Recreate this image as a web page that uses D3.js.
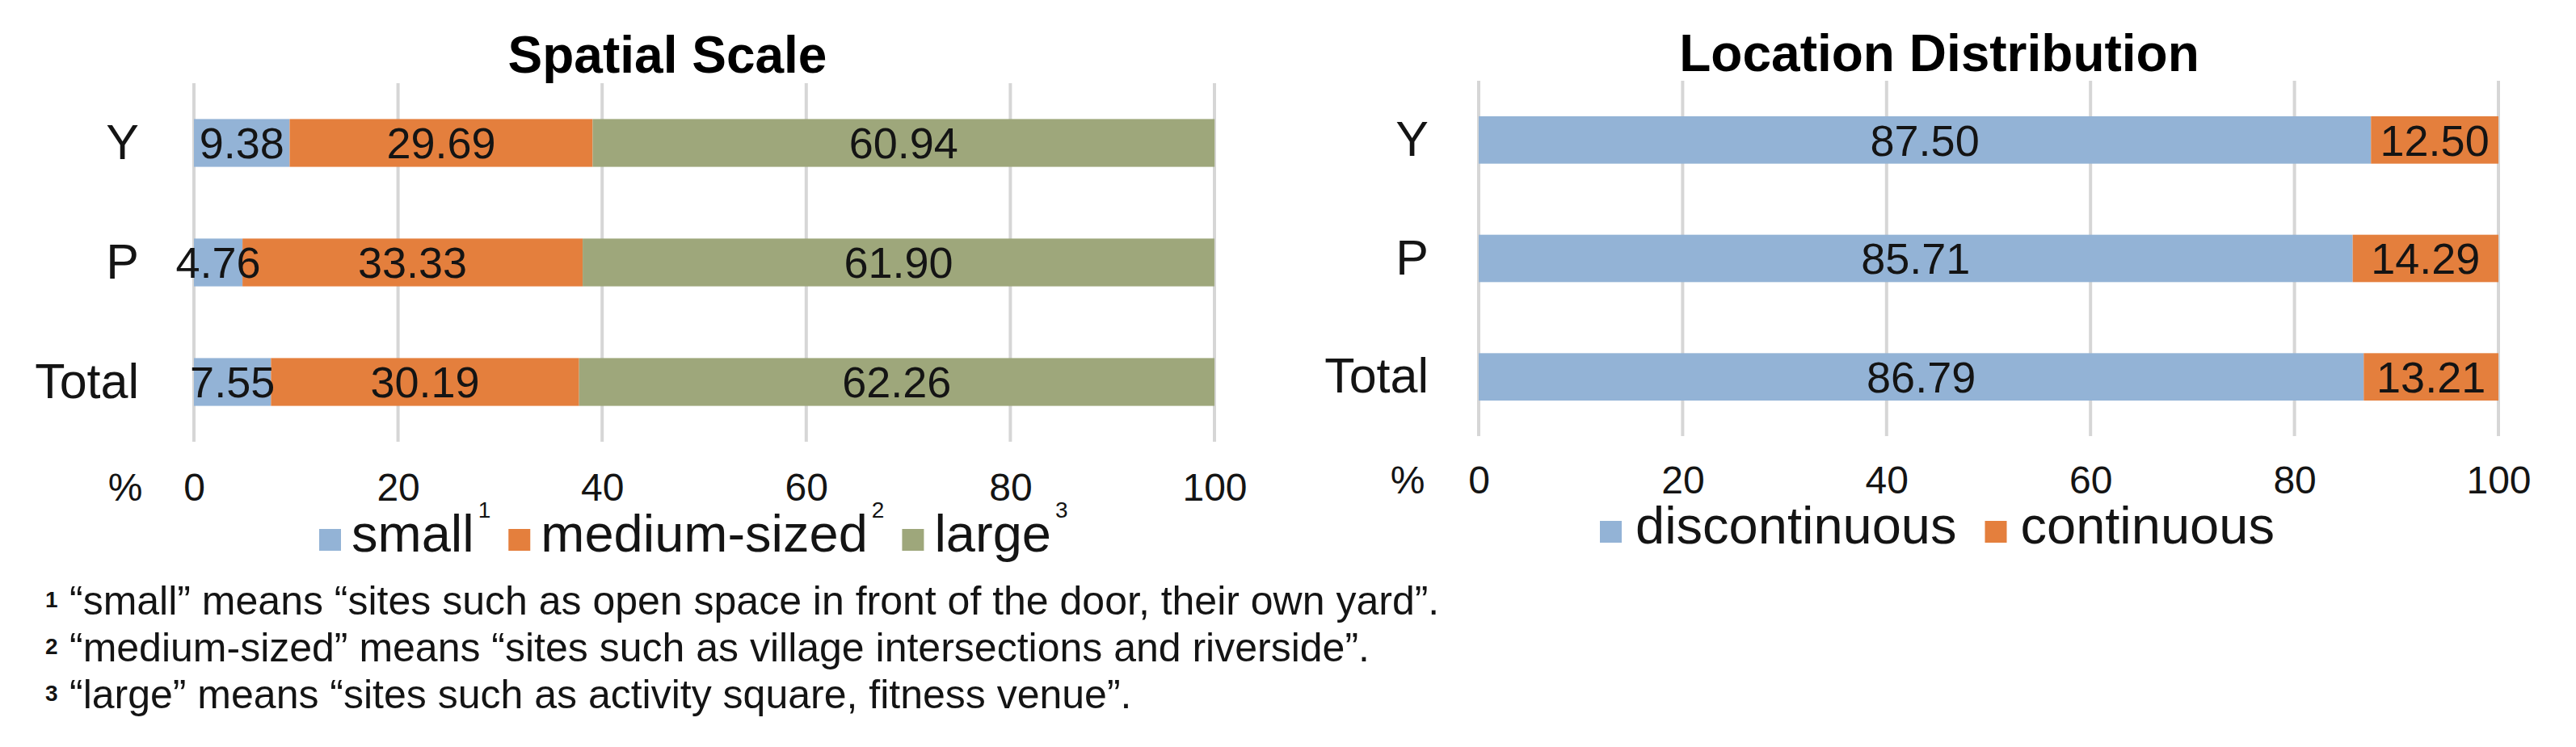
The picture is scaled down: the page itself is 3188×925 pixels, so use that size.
<!DOCTYPE html>
<html>
<head>
<meta charset="utf-8">
<script src="https://cdn.jsdelivr.net/npm/d3@7"></script>
<style>
  html, body { margin: 0; padding: 0; background: #ffffff; }
  svg { display: block; font-family: "Liberation Sans", Arial, sans-serif; }
</style>
</head>
<body>
<svg id="chart" width="3188" height="925"></svg>
<script>
// ---------- DATA ----------
const categories = ["Y", "P", "Total"];
const tickValues = [0, 20, 40, 60, 80, 100];
const axisUnit = "%";

const spatialTitle = "Spatial Scale";
const spatialSeries = ["small", "medium-sized", "large"];
const spatialSup = ["1", "2", "3"];
const smallValues = [9.38, 4.76, 7.55];
const mediumValues = [29.69, 33.33, 30.19];
const largeValues = [60.94, 61.90, 62.26];

const locationTitle = "Location Distribution";
const locationSeries = ["discontinuous", "continuous"];
const discontinuousValues = [87.50, 85.71, 86.79];
const continuousValues = [12.50, 14.29, 13.21];

const footnoteMarks = ["1", "2", "3"];
const footnotes = [
  "\u201csmall\u201d means \u201csites such as open space in front of the door, their own yard\u201d.",
  "\u201cmedium-sized\u201d means \u201csites such as village intersections and riverside\u201d.",
  "\u201clarge\u201d means \u201csites such as activity square, fitness venue\u201d."
];

// ---------- STYLE ----------
const COLORS = { blue: "#93b3d6", orange: "#e47f3d", green: "#9ea77b" };
const TEXT = "#141414";
const GRID = "#d6d6d6";

const svg = d3.select("#chart");
svg.append("rect").attr("width", 3188).attr("height", 925).attr("fill", "#fff");

function drawChart(cfg) {
  const g = svg.append("g");
  const x = d3.scaleLinear().domain([0, 100]).range([cfg.x0, cfg.x1]);
  const y = d3.scaleBand().domain(categories).range([cfg.top, cfg.bottom])
              .paddingInner(0.6).paddingOuter(0.3);

  // gridlines
  g.selectAll("line.grid").data(tickValues).join("line")
    .attr("class", "grid")
    .attr("x1", d => x(d)).attr("x2", d => x(d))
    .attr("y1", cfg.top).attr("y2", cfg.bottom)
    .attr("stroke", GRID).attr("stroke-width", 4);

  // stacked bars
  const rows = categories.map((c, i) => {
    const o = { cat: c };
    cfg.series.forEach((s, j) => o[s] = cfg.values[j][i]);
    return o;
  });
  const stacked = d3.stack().keys(cfg.series)(rows);
  const color = d3.scaleOrdinal().domain(cfg.series).range(cfg.colors);

  const layers = g.selectAll("g.layer").data(stacked).join("g")
    .attr("class", "layer").attr("fill", d => color(d.key));
  layers.selectAll("rect").data(d => d).join("rect")
    .attr("x", d => x(d[0]))
    .attr("width", d => x(d[1]) - x(d[0]))
    .attr("y", d => y(d.data.cat))
    .attr("height", y.bandwidth());

  // data labels
  stacked.forEach(layer => {
    g.selectAll(null).data(layer).join("text")
      .attr("x", d => (x(d[0]) + x(d[1])) / 2)
      .attr("y", d => y(d.data.cat) + y.bandwidth() / 2)
      .attr("dy", "0.36em")
      .attr("text-anchor", "middle")
      .attr("font-size", 54)
      .attr("fill", TEXT)
      .text(d => (d[1] - d[0]).toFixed(2));
  });

  // category axis
  const ya = g.append("g").attr("transform", `translate(${cfg.x0},0)`)
    .call(d3.axisLeft(y).tickSize(0).tickPadding(cfg.catPad));
  ya.select(".domain").remove();
  ya.selectAll("text").attr("font-size", 61).attr("fill", TEXT)
    .attr("font-family", "Liberation Sans, Arial, sans-serif");

  // value axis labels
  const xa = g.append("g").attr("transform", `translate(0,${cfg.tickY})`)
    .call(d3.axisBottom(x).tickValues(tickValues).tickSize(0).tickPadding(0)
          .tickFormat(d3.format("d")));
  xa.select(".domain").remove();
  xa.selectAll("text").attr("font-size", 48).attr("fill", TEXT)
    .attr("dy", "0.36em").attr("y", 0)
    .attr("font-family", "Liberation Sans, Arial, sans-serif");

  g.append("text").attr("x", cfg.pctX).attr("y", cfg.tickY).attr("dy", "0.36em")
    .attr("text-anchor", "middle").attr("font-size", 48).attr("fill", TEXT)
    .text(axisUnit);

  // title
  g.append("text").attr("x", cfg.titleX).attr("y", cfg.titleY)
    .attr("text-anchor", "middle").attr("font-size", 64).attr("font-weight", "bold")
    .attr("fill", "#000").text(cfg.title);

  // legend
  let lx = cfg.legendX;
  const sw = 27;
  cfg.series.forEach((s, i) => {
    g.append("rect").attr("x", lx).attr("y", cfg.legendY - sw - 1)
      .attr("width", sw).attr("height", sw).attr("fill", color(s));
    lx += sw + cfg.swGap;
    const t = g.append("text").attr("x", lx).attr("y", cfg.legendY)
      .attr("font-size", 65).attr("fill", TEXT).text(s);
    lx += t.node().getComputedTextLength();
    if (cfg.sups) {
      const st = g.append("text").attr("x", lx + 5).attr("y", cfg.legendY - 42)
        .attr("font-size", 28).attr("fill", TEXT).text(cfg.sups[i]);
      lx += 5 + st.node().getComputedTextLength();
    }
    lx += cfg.itemGap;
  });
}

drawChart({
  x0: 240, x1: 1503, top: 103, bottom: 547,
  title: spatialTitle, titleX: 826, titleY: 90,
  series: spatialSeries,
  values: [smallValues, mediumValues, largeValues],
  colors: [COLORS.blue, COLORS.orange, COLORS.green],
  catPad: 68, tickY: 603, pctX: 155,
  legendX: 395, legendY: 683, swGap: 13, itemGap: 22, sups: spatialSup
});

drawChart({
  x0: 1830, x1: 3092, top: 100, bottom: 540,
  title: locationTitle, titleX: 2400, titleY: 88,
  series: locationSeries,
  values: [discontinuousValues, continuousValues],
  colors: [COLORS.blue, COLORS.orange],
  catPad: 62, tickY: 594, pctX: 1742,
  legendX: 1980, legendY: 673, swGap: 17, itemGap: 35, sups: null
});

// footnotes
const fnBase = [761, 819, 877];
const fn = svg.append("g");
footnotes.forEach((t, i) => {
  fn.append("text").attr("x", 56).attr("y", fnBase[i] - 9)
    .attr("font-size", 28).attr("font-weight", "bold").attr("fill", TEXT)
    .text(footnoteMarks[i]);
  fn.append("text").attr("x", 86).attr("y", fnBase[i])
    .attr("font-size", 50).attr("fill", TEXT).text(t);
});
</script>
</body>
</html>
